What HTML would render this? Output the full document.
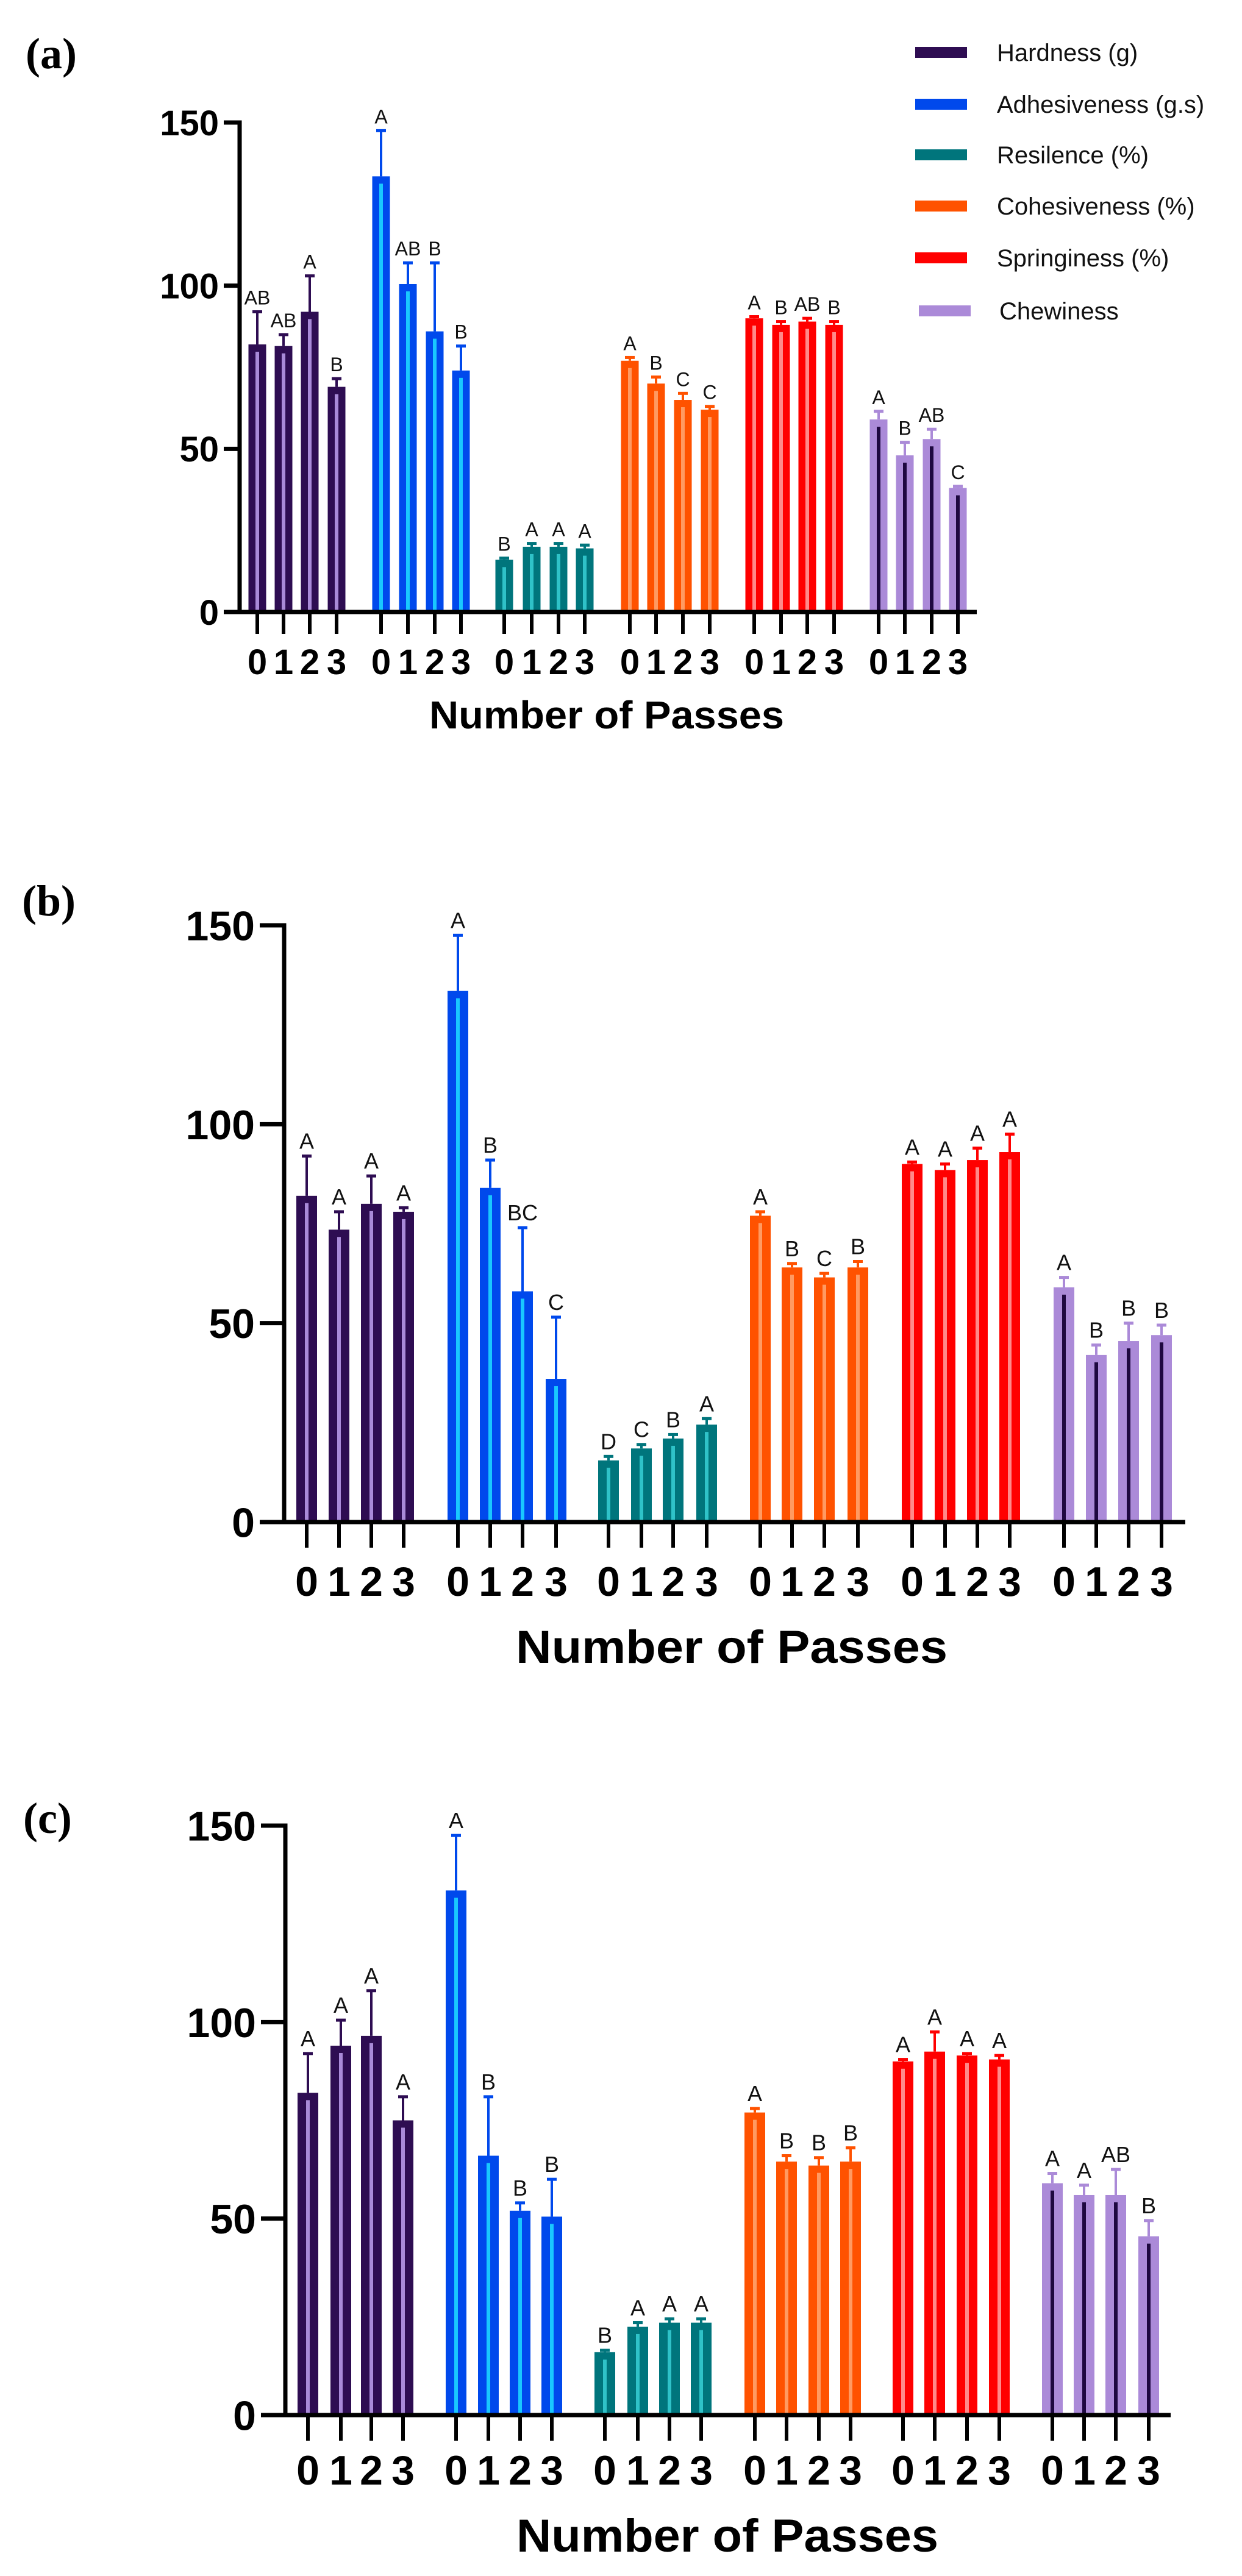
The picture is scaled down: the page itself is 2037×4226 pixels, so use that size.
<!DOCTYPE html>
<html><head><meta charset="utf-8"><title>Texture profile by number of passes</title>
<style>html,body{margin:0;padding:0;background:#fff}svg{display:block}</style></head>
<body>
<svg id="fig" xmlns="http://www.w3.org/2000/svg" width="2037" height="4226" viewBox="0 0 2037 4226" font-family="Liberation Sans, Arial, sans-serif"></svg>
<script>
const seriesNames = ["Hardness (g)","Adhesiveness (g.s)","Resilence (%)","Cohesiveness (%)","Springiness (%)","Chewiness"];
const passes = ["0","1","2","3"];
const yTicks = [0,50,100,150];
// panel (a)
const meansA = [[82,81.5,92,69],[133.5,100.5,86,74],[16,20,20,19.5],[77,70,65,62],[90,88,89,88],[59,48,53,38]];
const errTopA = [[92,85,103,71.5],[147.5,107,107,81.5],[16.5,21,21,20.5],[78,72,67,63],[90.5,89,90,89],[61.5,52,56,38.5]];
const lettersA = [["AB","AB","A","B"],["A","AB","B","B"],["B","A","A","A"],["A","B","C","C"],["A","B","AB","B"],["A","B","AB","C"]];
// panel (b)
const meansB = [[82,73.5,80,78],[133.5,84,58,36],[15.5,18.5,21,24.5],[77,64,61.5,64],[90,88.5,91,93],[59,42,45.5,47]];
const errTopB = [[92,78,87,79],[147.5,91,74,51.5],[16.5,19.5,22,26],[78,65,62.5,65.5],[90.5,90,94,97.5],[61.5,44.5,50,49.5]];
const lettersB = [["A","A","A","A"],["A","B","BC","C"],["D","C","B","A"],["A","B","C","B"],["A","A","A","A"],["A","B","B","B"]];
// panel (c)
const meansC = [[82,94,96.5,75],[133.5,66,52,50.5],[16,22.5,23.5,23.5],[77,64.5,63.5,64.5],[90,92.5,91.5,90.5],[59,56,56,45.5]];
const errTopC = [[92,100.5,108,81],[147.5,81,54,60],[16.5,23.5,24.5,24.5],[78,66,65.5,68],[90.5,97.5,92,91.5],[61.5,58.5,62.5,49.5]];
const lettersC = [["A","A","A","A"],["A","B","B","B"],["B","A","A","A"],["A","B","B","B"],["A","A","A","A"],["A","A","AB","B"]];

const fills = ["#2e0d52","#0049ec","#00757c","#ff5200","#ff0000","#ab8ad8"];
const stripes = ["#a98ad8","#19c8ff","#2fc2c8","#ff9a62","#ff8a8a","#1e0840"];

const svg = document.getElementById('fig');
const NS = "http://www.w3.org/2000/svg";
function mk(tag, attrs, parent){const e=document.createElementNS(NS,tag);for(const k in attrs)e.setAttribute(k,attrs[k]);(parent||svg).appendChild(e);return e;}

const legend = mk('g',{});


const legY=[86,171,254,338,423,510];
seriesNames.forEach((n,i)=>{
  const g=mk('g',{},legend);
  
  
  const sx = i===5?1507:1501;
  mk('rect',{x:sx,y:legY[i]-9,width:85,height:18,fill:fills[i]},g);
  const t=mk('text',{x:i===5?1639:1635,y:legY[i]+14,'font-size':40,fill:'#111'},g);
  t.textContent=n;
});

const panels = [
 {key:'a',label:'(a)',lx:42,ly:112,means:meansA,err:errTopA,letters:lettersA,axisX:393,x0:1004,x150:201,xEnd:1602,
  centers:[[422,465,508,552],[625,669,713,756],[827,872,916,959],[1033,1076,1120,1164],[1237,1281,1324,1368],[1441,1484,1528,1571]],
  bw:29,tick:58,tickLen:26,xTickLen:36,xlab:1106,title:1195,titleX:995,titleW:582,titleF:64,letF:32,stroke:7},
 {key:'b',label:'(b)',lx:36,ly:1502,means:meansB,err:errTopB,letters:lettersB,axisX:466,x0:2497,x150:1518,xEnd:1944,
  centers:[[503,556,609,662],[751,804,857,912],[998,1052,1104,1159],[1247,1299,1352,1407],[1496,1550,1603,1656],[1745,1798,1851,1905]],
  bw:34,tick:68,tickLen:40,xTickLen:42,xlab:2618,title:2728,titleX:1200,titleW:708,titleF:76,letF:36,stroke:7},
 {key:'c',label:'(c)',lx:38,ly:3007,means:meansC,err:errTopC,letters:lettersC,axisX:468,x0:3962,x150:2995,xEnd:1920,
  centers:[[505,559,609,661],[748,801,853,905],[992,1046,1098,1150],[1238,1290,1343,1395],[1481,1533,1586,1639],[1726,1778,1830,1884]],
  bw:34,tick:68,tickLen:40,xTickLen:42,xlab:4076,title:4186,titleX:1193,titleW:692,titleF:76,letF:36,stroke:7}
];

panels.forEach(p=>{
  const g=mk('g',{});
  
  
  const yScale=v=>p.x0-(p.x0-p.x150)*v/150;
  const pl=mk('text',{x:p.lx,y:p.ly,'font-size':72,'font-weight':'bold','font-family':'Liberation Serif, Times New Roman, serif',fill:'#000'},g);
  pl.textContent=p.label;
  
  
  p.means.forEach((ser,si)=>{
    const sg=mk('g',{},g);
    
    
    ser.forEach((v,pi)=>{
      const cx=p.centers[si][pi], yt=yScale(v), ye=yScale(p.err[si][pi]);
      const col=fills[si];
      mk('line',{x1:cx,x2:cx,y1:yt,y2:ye,stroke:col,'stroke-width':4},sg);
      mk('line',{x1:cx-8,x2:cx+8,y1:ye,y2:ye,stroke:col,'stroke-width':5},sg);
      const r=mk('rect',{x:cx-p.bw/2,y:yt,width:p.bw,height:p.x0-yt,fill:col},sg);
      
      
      mk('rect',{x:cx-3,y:yt+12,width:6,height:Math.max(0,p.x0-yt-12),fill:stripes[si]},sg);
      const lt=mk('text',{x:cx,y:ye-12,'font-size':p.letF,'text-anchor':'middle',fill:'#111'},sg);
      lt.textContent=p.letters[si][pi];
    });
  });
  const ax=mk('g',{},g);
  
  
  mk('line',{x1:p.axisX,x2:p.axisX,y1:p.x150-p.stroke/2,y2:p.x0+p.stroke/2,stroke:'#000','stroke-width':p.stroke},ax);
  mk('line',{x1:p.axisX-p.stroke/2,x2:p.xEnd,y1:p.x0,y2:p.x0,stroke:'#000','stroke-width':p.stroke},ax);
  yTicks.forEach(t=>{
    const y=yScale(t);
    mk('line',{x1:p.axisX-p.tickLen,x2:p.axisX,y1:y,y2:y,stroke:'#000','stroke-width':p.stroke},ax);
    const tx=mk('text',{x:p.axisX-p.tickLen-8,y:y+p.tick*0.36,'font-size':p.tick,'font-weight':'bold','text-anchor':'end',fill:'#000'},ax);
    tx.textContent=String(t);
  });
  p.centers.forEach(grp=>grp.forEach((cx,pi)=>{
    mk('line',{x1:cx,x2:cx,y1:p.x0,y2:p.x0+p.xTickLen,stroke:'#000','stroke-width':6},ax);
    const tx=mk('text',{x:cx,y:p.xlab,'font-size':p.tick,'font-weight':'bold','text-anchor':'middle',fill:'#000'},ax);
    tx.textContent=passes[pi];
  }));
  const tt=mk('text',{x:p.titleX,y:p.title,'font-size':p.titleF,'font-weight':'bold','text-anchor':'middle',textLength:p.titleW,lengthAdjust:'spacingAndGlyphs',fill:'#000'},g);
  tt.textContent='Number of Passes';
  
  
});
</script>
</body></html>
